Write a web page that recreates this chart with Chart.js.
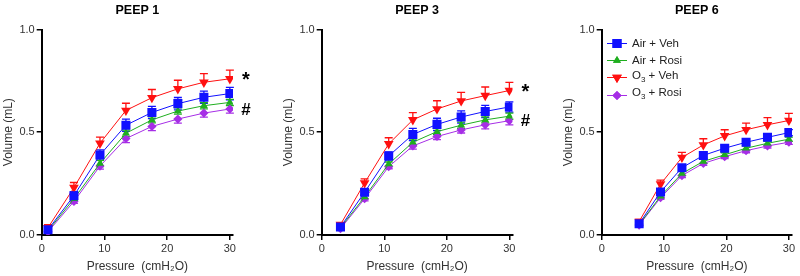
<!DOCTYPE html>
<html>
<head>
<meta charset="utf-8">
<script src="https://cdn.jsdelivr.net/npm/chart.js@4.4.1/dist/chart.umd.min.js"></script>
<style>
  html, body { margin: 0; padding: 0; background: #fff; }
  body { width: 800px; height: 276px; position: relative; overflow: hidden; font-family: "Liberation Sans", Arial, sans-serif; }
  .panel { position: absolute; top: 0; height: 276px; }
  .panel canvas { display: block; }
  #legend { position: absolute; left: 606px; top: 34.5px; font-size: 11.5px; color: #222; }
  #legend .item { height: 17.3px; line-height: 17.3px; display: flex; align-items: center; }
  #legend canvas { margin-right: 4px; }
</style>
</head>
<body>
<div class="panel" id="p1" style="left:0px;width:262px;"><canvas id="c1" width="262" height="276"></canvas></div>
<div class="panel" id="p2" style="left:270px;width:262px;"><canvas id="c2" width="262" height="276"></canvas></div>
<div class="panel" id="p3" style="left:530px;width:270px;"><canvas id="c3" width="270" height="276"></canvas></div>
<div id="legend"></div>
<script>
// ---------- DATA ----------
const seriesNames = ["Air + Veh", "Air + Rosi", "O\u2083 + Veh", "O\u2083 + Rosi"];
const panelTitles = ["PEEP 1", "PEEP 3", "PEEP 6"];
const xTicks = [0, 10, 20, 30];
const yTicks = [0, 0.5, 1.0];

const pressure1 = [1, 5.14, 9.29, 13.43, 17.57, 21.71, 25.86, 30];
const pressure3 = [3, 6.86, 10.71, 14.57, 18.43, 22.29, 26.14, 30];
const pressure6 = [6, 9.43, 12.86, 16.29, 19.71, 23.14, 26.57, 30];

// PEEP 1
const airVeh1  = [0.025, 0.191, 0.389, 0.534, 0.596, 0.639, 0.670, 0.688];
const airRosi1 = [0.020, 0.176, 0.348, 0.495, 0.560, 0.603, 0.629, 0.645];
const o3Veh1   = [0.035, 0.230, 0.446, 0.606, 0.668, 0.711, 0.743, 0.760];
const o3Rosi1  = [0.015, 0.163, 0.335, 0.469, 0.528, 0.564, 0.593, 0.613];
const airVehErr1  = [0.010, 0.020, 0.025, 0.030, 0.030, 0.030, 0.030, 0.030];
const airRosiErr1 = [0.005, 0.010, 0.015, 0.015, 0.015, 0.015, 0.015, 0.015];
const o3VehErr1   = [0.015, 0.025, 0.030, 0.035, 0.040, 0.042, 0.042, 0.042];
const o3RosiErr1  = [0.005, 0.010, 0.015, 0.020, 0.020, 0.020, 0.020, 0.020];

// PEEP 3
const airVeh3  = [0.038, 0.208, 0.384, 0.489, 0.538, 0.574, 0.601, 0.623];
const airRosi3 = [0.035, 0.185, 0.345, 0.451, 0.503, 0.534, 0.560, 0.578];
const o3Veh3   = [0.050, 0.253, 0.443, 0.560, 0.613, 0.652, 0.678, 0.703];
const o3Rosi3  = [0.030, 0.176, 0.332, 0.433, 0.479, 0.511, 0.536, 0.556];
const airVehErr3  = [0.010, 0.015, 0.020, 0.030, 0.030, 0.030, 0.030, 0.025];
const airRosiErr3 = [0.005, 0.010, 0.010, 0.015, 0.015, 0.015, 0.015, 0.015];
const o3VehErr3   = [0.010, 0.020, 0.030, 0.035, 0.040, 0.042, 0.042, 0.040];
const o3RosiErr3  = [0.005, 0.010, 0.010, 0.015, 0.015, 0.015, 0.020, 0.020];

// PEEP 6
const airVeh6  = [0.054, 0.209, 0.327, 0.387, 0.422, 0.451, 0.475, 0.498];
const airRosi6 = [0.050, 0.188, 0.299, 0.358, 0.390, 0.422, 0.446, 0.466];
const o3Veh6   = [0.065, 0.247, 0.377, 0.438, 0.482, 0.512, 0.536, 0.557];
const o3Rosi6  = [0.048, 0.181, 0.289, 0.348, 0.381, 0.410, 0.433, 0.451];
const airVehErr6  = [0.010, 0.015, 0.015, 0.015, 0.015, 0.015, 0.015, 0.015];
const airRosiErr6 = [0.005, 0.008, 0.010, 0.010, 0.010, 0.010, 0.010, 0.010];
const o3VehErr6   = [0.010, 0.020, 0.025, 0.030, 0.030, 0.032, 0.035, 0.035];
const o3RosiErr6  = [0.005, 0.008, 0.010, 0.010, 0.010, 0.010, 0.010, 0.010];

// ---------- STYLE ----------
const colors = ["#1010ff", "#1fae1f", "#ff1010", "#a62ee6"];
const pointStyles = ["rect", "triangle", "triangle", "rectRot"];
const pointRotations = [0, 0, 180, 0];
const pointRadii = [6.4, 4.6, 5.6, 4.6];
const errDirs = ["both", "both", "up", "down"];
const FONT = "'Liberation Sans', Arial, sans-serif";

const errorBarPlugin = {
  id: "errorBars",
  beforeDatasetsDraw(chart) {
    const ctx = chart.ctx;
    const xs = chart.scales.x, ys = chart.scales.y;
    chart.data.datasets.forEach((ds) => {
      if (!ds.errors) return;
      ctx.save();
      ctx.strokeStyle = ds.borderColor;
      ctx.lineWidth = 1.3;
      ds.data.forEach((p, i) => {
        const e = ds.errors[i];
        const px = xs.getPixelForValue(p.x);
        const py = ys.getPixelForValue(p.y);
        const ends = [];
        if (ds.errDir !== "down") ends.push(ys.getPixelForValue(p.y + e));
        if (ds.errDir !== "up") ends.push(ys.getPixelForValue(p.y - e));
        ends.forEach(ey => {
          ctx.beginPath();
          ctx.moveTo(px, py); ctx.lineTo(px, ey);
          ctx.moveTo(px - 4, ey); ctx.lineTo(px + 4, ey);
          ctx.stroke();
        });
      });
      ctx.restore();
    });
  }
};

const marksPlugin = {
  id: "sigMarks",
  afterDraw(chart, args, opts) {
    if (!opts.marks) return;
    const ctx = chart.ctx;
    const xs = chart.scales.x, ys = chart.scales.y;
    ctx.save();
    ctx.fillStyle = "#000";
    ctx.textAlign = "center";
    ctx.textBaseline = "middle";
    opts.marks.forEach(m => {
      ctx.font = "bold " + m.size + "px " + FONT;
      ctx.fillText(m.text, xs.getPixelForValue(m.x) + 16, ys.getPixelForValue(m.y) + (m.dy || 0));
    });
    ctx.restore();
  }
};

function makeChart(id, title, pressure, ys, errs, marks, pad) {
  const datasets = ys.map((vals, k) => ({
    label: seriesNames[k],
    data: pressure.map((x, i) => ({ x: x, y: vals[i] })),
    errors: errs[k],
    errDir: errDirs[k],
    borderColor: colors[k],
    backgroundColor: colors[k],
    borderWidth: 1,
    pointStyle: pointStyles[k],
    rotation: pointRotations[k],
    pointRadius: pointRadii[k],
    pointHoverRadius: pointRadii[k],
    pointBorderWidth: 0,
    showLine: true,
    tension: 0,
    order: [0, 2, 1, 3][k]
  }));
  return new Chart(document.getElementById(id), {
    type: "scatter",
    data: { datasets: datasets },
    plugins: [errorBarPlugin, marksPlugin],
    options: {
      responsive: false,
      animation: false,
      events: [],
      layout: { padding: pad },
      plugins: {
        legend: { display: false },
        tooltip: { enabled: false },
        title: {
          display: true, text: title, color: "#000", fullSize: false,
          font: { family: FONT, size: 12.5, weight: "bold" },
          padding: { top: 0, bottom: 11.5 }
        },
        sigMarks: { marks: marks }
      },
      scales: {
        x: {
          type: "linear", min: 0, max: 30.5,
          afterBuildTicks: a => { a.ticks = xTicks.map(v => ({ value: v })); },
          border: { color: "#000", width: 2 },
          grid: { drawOnChartArea: false, drawTicks: true, tickLength: 5, color: "#000", lineWidth: 1.5 },
          ticks: { color: "#333", font: { family: FONT, size: 11 }, padding: 2, maxRotation: 0 },
          title: { display: true, text: "Pressure  (cmH\u2082O)", color: "#333", font: { family: FONT, size: 12 }, padding: { top: 2, bottom: 0 } }
        },
        y: {
          type: "linear", min: 0, max: 1.0,
          afterBuildTicks: a => { a.ticks = yTicks.map(v => ({ value: v })); },
          border: { color: "#000", width: 2 },
          grid: { drawOnChartArea: false, drawTicks: true, tickLength: 5, color: "#000", lineWidth: 1.5 },
          ticks: { color: "#333", font: { family: FONT, size: 11 }, padding: 2, callback: v => v.toFixed(1) },
          title: { display: true, text: "Volume (mL)", color: "#333", font: { family: FONT, size: 12 }, padding: { top: 0, bottom: 2 } }
        }
      }
    }
  });
}

makeChart("c1", panelTitles[0], pressure1,
  [airVeh1, airRosi1, o3Veh1, o3Rosi1],
  [airVehErr1, airRosiErr1, o3VehErr1, o3RosiErr1],
  [{ text: "*", x: 30, y: o3Veh1[7], size: 20, dy: 2 }, { text: "#", x: 30, y: o3Rosi1[7], size: 17, dy: 1 }],
  { left: 1, right: 29, top: 3, bottom: 2.5 });

makeChart("c2", panelTitles[1], pressure3,
  [airVeh3, airRosi3, o3Veh3, o3Rosi3],
  [airVehErr3, airRosiErr3, o3VehErr3, o3RosiErr3],
  [{ text: "*", x: 30, y: o3Veh3[7], size: 20, dy: 2 }, { text: "#", x: 30, y: o3Rosi3[7], size: 17, dy: 1 }],
  { left: 11, right: 19.5, top: 3, bottom: 2.5 });

makeChart("c3", panelTitles[2], pressure6,
  [airVeh6, airRosi6, o3Veh6, o3Rosi6],
  [airVehErr6, airRosiErr6, o3VehErr6, o3RosiErr6],
  [],
  { left: 31, right: 8, top: 3, bottom: 2.5 });

// ---------- HTML legend ----------
const legendLabels = ["Air + Veh", "Air + Rosi", "O<sub style='font-size:8px'>3</sub> + Veh", "O<sub style='font-size:8px'>3</sub> + Rosi"];
const legend = document.getElementById("legend");
legendLabels.forEach((lbl, k) => {
  const item = document.createElement("div");
  item.className = "item";
  const cv = document.createElement("canvas");
  cv.width = 22; cv.height = 17;
  const g = cv.getContext("2d");
  g.strokeStyle = colors[k]; g.lineWidth = 1;
  g.beginPath(); g.moveTo(1, 8.5); g.lineTo(21, 8.5); g.stroke();
  g.fillStyle = colors[k];
  Chart.helpers.drawPoint(g, { pointStyle: pointStyles[k], rotation: pointRotations[k], radius: pointRadii[k], borderWidth: 0 }, 11, 8.5);
  g.fill();
  item.appendChild(cv);
  const sp = document.createElement("span");
  sp.innerHTML = lbl;
  item.appendChild(sp);
  legend.appendChild(item);
});
</script>
</body>
</html>
